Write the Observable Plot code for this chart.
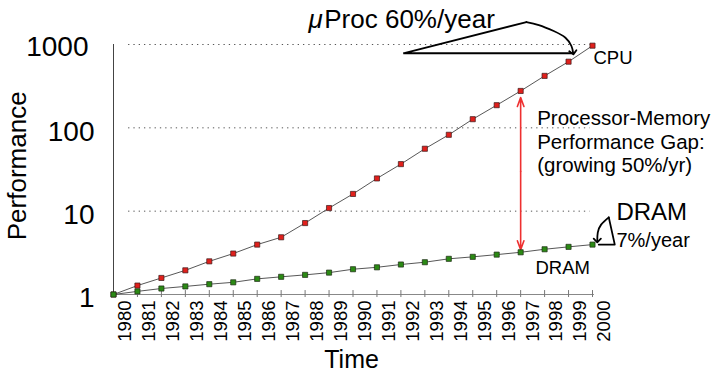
<!DOCTYPE html>
<html>
<head>
<meta charset="utf-8">
<script src="https://cdn.jsdelivr.net/npm/d3@7"></script>
<script src="https://cdn.jsdelivr.net/npm/@observablehq/plot@0.6"></script>
<style>
  html, body { margin: 0; padding: 0; background: #fff; }
  #chart svg { overflow: visible; }
</style>
</head>
<body>
<div id="chart"></div>
<script>
// ---- data ----
const years = [1980,1981,1982,1983,1984,1985,1986,1987,1988,1989,1990,1991,1992,1993,1994,1995,1996,1997,1998,1999,2000];
const cpu   = [1,1.28,1.58,1.95,2.5,3.1,3.97,4.86,7.2,10.9,16.1,24.7,36.7,56.1,82.5,127,187,277,420,622,968];
const dram  = [1,1.09,1.18,1.25,1.33,1.40,1.54,1.63,1.72,1.83,2.01,2.12,2.29,2.44,2.68,2.83,3.01,3.21,3.49,3.73,3.97];
const yTicksLow = [1, 10, 100];
const yTicksTop = [1000];
const gridValues = [10, 100, 1000];
const tickYears = years.slice(1);

// annotation shapes (data units: year, performance)
const cpuWedge = [{x:1999.19,y:785},{x:1992.10,y:785},{x:1997.24,y:1860}];
const cpuArc   = [{x:1997.24,y:1860},{x:1997.76,y:1713},{x:1998.38,y:1451},{x:1998.87,y:1206},{x:1999.12,y:959},{x:1999.19,y:800}];
const dramWedge = [{x:2000.26,y:3.97},{x:2000.93,y:3.97},{x:2000.68,y:8.43}];
const dramArc   = [{x:2000.68,y:8.43},{x:2000.36,y:6.89},{x:2000.22,y:5.53},{x:2000.20,y:4.45}];

const cpuData = years.map((yr,i) => ({year: yr, value: cpu[i]}));
const dramData = years.map((yr,i) => ({year: yr, value: dram[i]}));

const font = "'Liberation Sans', Arial, Helvetica, sans-serif";

const chart = Plot.plot({
  width: 723,
  height: 373,
  marginLeft: 113,
  marginRight: 131,
  marginTop: 44,
  marginBottom: 79,
  x: {domain: [1980, 2000], axis: null},
  y: {type: "log", domain: [1, 1000], axis: null},
  style: {fontFamily: font, background: "white", color: "#000", overflow: "visible"},
  marks: [
    // dotted grid
    Plot.ruleY(gridValues, {y: d => d, x1: 1980.63, x2: 1999.9, stroke: "#555", strokeWidth: 1, strokeDasharray: "1.3,4"}),
    // axes lines
    Plot.ruleX([1980], {y1: 1, y2: 1000, stroke: "#444", strokeWidth: 1}),
    Plot.ruleY([1], {x1: 1980, x2: 2000.08, stroke: "#888", strokeWidth: 1.2}),
    Plot.ruleX(tickYears, {x: d => d, y1: 0.92, y2: 1.115, stroke: "#777", strokeWidth: 1}),
    // y tick labels
    Plot.text(yTicksLow, {x: 1980, y: d => d, text: d => String(d), textAnchor: "end", dx: -19, dy: 4, fontSize: 28, fill: "#000"}),
    Plot.text(yTicksTop, {x: 1980, y: d => d, text: d => String(d), textAnchor: "end", dx: -25, dy: 3, fontSize: 28, fill: "#000"}),
    // x tick labels
    Plot.text(years, {x: d => d + 0.5, y: 0.847, text: d => String(d), rotate: -90, textAnchor: "end", lineAnchor: "middle", fontSize: 18.5, fill: "#000"}),
    // axis titles
    Plot.text(["Performance"], {x: 1976.0, y: 35, text: d => d, rotate: -90, fontSize: 26, fill: "#000"}),
    Plot.text(["Time"], {x: 1989.94, y: 0.133, text: d => d, lineAnchor: "bottom", fontSize: 25, fill: "#000"}),
    // gap arrow
    Plot.arrow([0], {x1: 1997, x2: 1997, y1: 30, y2: 277, insetEnd: 6.5, stroke: "#ee3030", strokeWidth: 1.6, headAngle: 40, headLength: 9}),
    Plot.arrow([0], {x1: 1997, x2: 1997, y1: 30, y2: 3.21, insetEnd: 2.5, stroke: "#ee3030", strokeWidth: 1.6, headAngle: 40, headLength: 9}),
    // series lines
    Plot.line(cpuData, {x: "year", y: "value", stroke: "#444", strokeWidth: 0.9}),
    Plot.line(dramData, {x: "year", y: "value", stroke: "#444", strokeWidth: 0.9}),
    Plot.dot(cpuData, {x: "year", y: "value", symbol: "square", r: 2.9, fill: "#e0201c", stroke: "#3a1a1a", strokeWidth: 0.7}),
    Plot.dot(dramData, {x: "year", y: "value", symbol: "square", r: 2.9, fill: "#2b8a14", stroke: "#1c2a14", strokeWidth: 0.7}),
    // annotation shapes
    Plot.line(cpuWedge, {x: "x", y: "y", stroke: "#000", strokeWidth: 1.8, strokeLinejoin: "miter"}),
    Plot.line(cpuArc, {x: "x", y: "y", stroke: "#000", strokeWidth: 1.8, curve: "natural", markerEnd: "arrow"}),
    Plot.line(dramWedge, {x: "x", y: "y", stroke: "#000", strokeWidth: 1.8}),
    Plot.line(dramArc, {x: "x", y: "y", stroke: "#000", strokeWidth: 1.8, curve: "natural", markerEnd: "arrow"}),
    // annotation texts
    Plot.text(["\u03BC"], {x: 1988.14, y: 1577, text: d => d, textAnchor: "start", lineAnchor: "bottom", fontSize: 26, fontStyle: "italic", fill: "#000"}),
    Plot.text(["Proc 60%/year"], {x: 1988.80, y: 1577, text: d => d, textAnchor: "start", lineAnchor: "bottom", fontSize: 26, fill: "#000"}),
    Plot.text(["CPU"], {x: 2000.04, y: 584, text: d => d, textAnchor: "start", lineAnchor: "bottom", fontSize: 18.5, fill: "#000"}),
    Plot.text(["Processor-Memory\nPerformance Gap:\n(growing 50%/yr)"], {x: 1997.69, y: 172, text: d => d, textAnchor: "start", lineAnchor: "top", lineHeight: 1.15, fontSize: 20.5, fill: "#000"}),
    Plot.text(["DRAM"], {x: 2001.0, y: 7.85, text: d => d, textAnchor: "start", lineAnchor: "bottom", fontSize: 24, fill: "#000"}),
    Plot.text(["7%/year"], {x: 2001.0, y: 3.69, text: d => d, textAnchor: "start", lineAnchor: "bottom", fontSize: 20, fill: "#000"}),
    Plot.text(["DRAM"], {x: 1997.62, y: 1.77, text: d => d, textAnchor: "start", lineAnchor: "bottom", fontSize: 18.5, fill: "#000"})
  ]
});
document.getElementById("chart").appendChild(chart);
</script>
</body>
</html>
